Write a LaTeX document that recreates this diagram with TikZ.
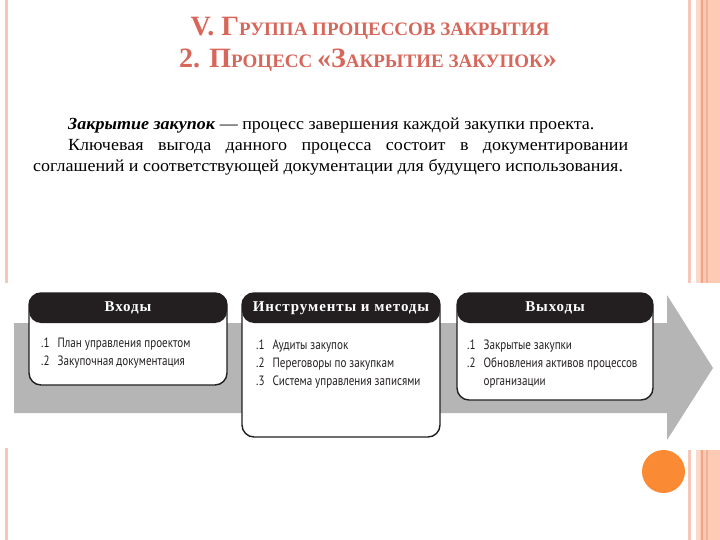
\documentclass[tikz,border=0pt]{standalone}
\usepackage{fontspec}
\setmainfont{Liberation Serif}
\newfontfamily\bodyfont[FakeStretch=1.06]{Liberation Serif}
\newfontfamily\titlefont{Liberation Serif}
\newfontfamily\hdrfont[LetterSpace=6]{Liberation Serif}
\newfontfamily\itemfont[FakeStretch=0.82]{PT Sans}
\definecolor{titlered}{HTML}{D6675A}
\definecolor{arrowgray}{HTML}{B5B5B5}
\definecolor{hdrblack}{HTML}{231F20}
\definecolor{dotorange}{HTML}{FB8A35}
\definecolor{pinkline}{HTML}{F6C6B8}
\definecolor{peach}{HTML}{FDCBB5}
\definecolor{peachdark}{HTML}{F2A585}
\definecolor{peachlight}{HTML}{FBD9CC}
\tikzset{
  titlestyle/.style={text=titlered, inner sep=0pt, font=\titlefont\bfseries},
  procbox/.style={draw=hdrblack, line width=1.4pt, rounded corners=12pt, fill=white, inner sep=0pt,
    path picture={\fill[hdrblack] (path picture bounding box.north west) rectangle ([yshift=-30pt]path picture bounding box.north east);}},
  hdrtext/.style={text=white, inner sep=0pt, font=\hdrfont\bfseries\fontsize{15}{17}\selectfont},
  itemtext/.style={anchor=north west, inner sep=0pt, text=hdrblack, font=\itemfont\fontsize{13.5}{18}\selectfont},
}
\begin{document}
\begin{tikzpicture}[x=1pt,y=-1pt]
\useasboundingbox (0,0) rectangle (720,540);
% decorative borders
\fill[pinkline] (5,0) rectangle (7.5,283);
\fill[pinkline] (5,448) rectangle (7.5,540);
\foreach \ya/\yb in {0/283, 450/540}{
  \fill[pinkline] (688,\ya) rectangle (691,\yb);
  \fill[peachlight] (696,\ya) rectangle (700,\yb);
  \fill[peach] (700,\ya) rectangle (720,\yb);
  \fill[peachdark] (701,\ya) rectangle (703,\yb);
  \fill[peachdark!70!peach] (706,\ya) rectangle (707.5,\yb);
}
% title
\node[titlestyle] (t1) at (370,28) {\fontsize{28}{30}\selectfont V. Г\fontsize{19}{22}\selectfont РУППА ПРОЦЕССОВ ЗАКРЫТИЯ};
\node[titlestyle] (t2) at (368,60) {\fontsize{28}{30}\selectfont 2. П\fontsize{19}{22}\selectfont РОЦЕСС \fontsize{28}{30}\selectfont «З\fontsize{19}{22}\selectfont АКРЫТИЕ ЗАКУПОК\fontsize{28}{30}\selectfont »};
% body
\node[anchor=north west, inner sep=0pt, text width=595pt, align=justify] (body) at (33,118)
{\bodyfont\fontsize{17}{21}\selectfont\parindent=35pt\indent
\textbf{\textit{Закрытие закупок}} — процесс завершения каждой закупки проекта.\par
\indent Ключевая выгода данного процесса состоит в документировании\linebreak
соглашений и соответствующей документации для будущего использования.\par};
% arrow
\fill[arrowgray] (14,323) -- (667,323) -- (667,295) -- (713,368) -- (667,440) -- (667,413) -- (14,413) -- cycle;
% boxes
\node[procbox, minimum width=198pt, minimum height=92pt] (b1) at (128,339) {};
\node[procbox, minimum width=198pt, minimum height=144pt] (b2) at (341,365) {};
\node[procbox, minimum width=196pt, minimum height=107pt] (b3) at (555,346.5) {};
\node[hdrtext] (h1) at (128,308) {Входы};
\node[hdrtext] (h2) at (341,308) {Инструменты и методы};
\node[hdrtext] (h3) at (555,308) {Выходы};
\node[itemtext] (i1) at (41,335) {\begin{tabular}{@{}l@{\hspace{8pt}}l@{}}.1 & План управления проектом\\ .2 & Закупочная документация\end{tabular}};
\node[itemtext] (i2) at (256,337) {\begin{tabular}{@{}l@{\hspace{8pt}}l@{}}.1 & Аудиты закупок\\ .2 & Переговоры по закупкам\\ .3 & Система управления записями\end{tabular}};
\node[itemtext] (i3) at (467,337) {\begin{tabular}{@{}l@{\hspace{8pt}}l@{}}.1 & Закрытые закупки\\ .2 & Обновления активов процессов\\ & организации\end{tabular}};
% dot
\node[circle, fill=dotorange, minimum size=43pt, inner sep=0pt] (dot) at (663.5,471.5) {};
\end{tikzpicture}
\end{document}
